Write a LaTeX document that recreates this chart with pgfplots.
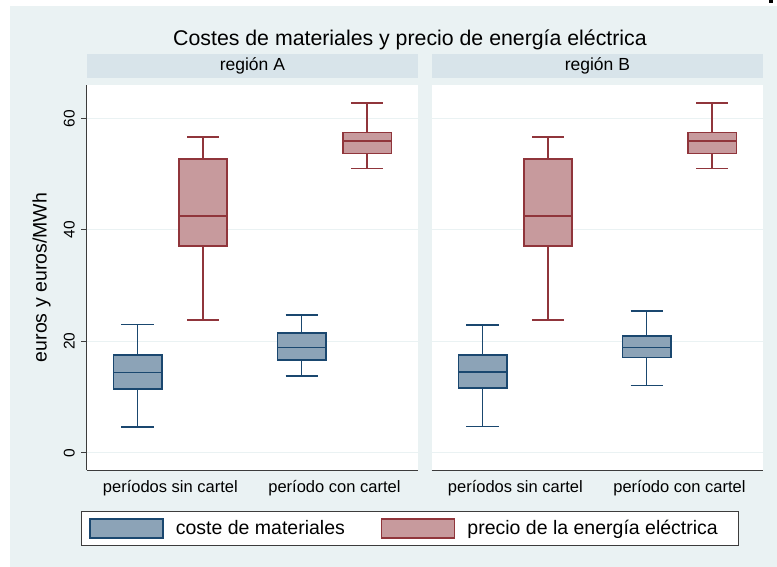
\documentclass[border=0pt]{standalone}
\usepackage{fontspec}
\setmainfont{Liberation Sans}
\usepackage{pgfplots}
\pgfplotsset{compat=1.18}
\definecolor{bgc}{RGB}{234,242,243}
\definecolor{stripc}{RGB}{216,228,234}
\definecolor{gridc}{RGB}{234,242,243}
\definecolor{navyc}{RGB}{26,71,111}
\definecolor{navyf}{RGB}{140,163,183}
\definecolor{maroonc}{RGB}{144,53,59}
\definecolor{maroonf}{RGB}{199,154,157}
\definecolor{axc}{RGB}{60,60,60}

\pgfplotsset{
  panel/.style={
    anchor=south west, scale only axis,
    width=331.4pt, height=385pt,
    xmin=0.49, xmax=2.51, ymin=-3.1, ymax=66,
    axis x line*=bottom,
    axis line style={-, draw=axc, line width=0.9pt},
    xtick={1,2},
    xticklabels={períodos sin cartel, período con cartel},
    xtick style={draw=none},
    xticklabel style={font=\fontsize{16.5}{19}\selectfont, yshift=-1.5pt},
    ytick={0,20,40,60},
    ymajorgrids,
    grid style={draw=gridc, line width=1.2pt},
    tick align=outside,
    major tick length=5.5pt,
    /pgf/number format/assume math mode=true,
    title style={at={(0.5,1)}, anchor=south, yshift=0.8pt, fill=stripc,
      minimum width=331.4pt, minimum height=24.3pt, inner sep=0pt,
      font=\fontsize{17.5}{20}\selectfont},
  },
  blue/.style={draw=navyc, fill=navyf, line width=1.7pt, line join=miter},
  blueline/.style={draw=navyc, line width=1.6pt},
  red/.style={draw=maroonc, fill=maroonf, line width=1.7pt, line join=miter},
  redline/.style={draw=maroonc, line width=1.6pt},
}

% \boxp{style}{position}{lower whisker}{lower quartile}{median}{upper quartile}{upper whisker}
\newcommand{\boxp}[7]{%
  \pgfmathsetmacro{\bxl}{#2-0.147}\pgfmathsetmacro{\bxr}{#2+0.147}%
  \pgfmathsetmacro{\capl}{#2-0.098}\pgfmathsetmacro{\capr}{#2+0.098}%
  \edef\bxtemp{%
   \noexpand\addplot[#1line, forget plot, unbounded coords=jump] coordinates {(\capl,#7) (\capr,#7) (#2,nan) (#2,#7) (#2,#6) (#2,nan) (#2,#4) (#2,#3) (#2,nan) (\capl,#3) (\capr,#3)};
   \noexpand\addplot[#1, forget plot] coordinates {(\bxl,#4) (\bxr,#4) (\bxr,#6) (\bxl,#6)} -- cycle;
   \noexpand\addplot[#1line, forget plot] coordinates {(\bxl,#5) (\bxr,#5)};
  }%
  \bxtemp}

\begin{document}
\begin{tikzpicture}
\useasboundingbox (0,0) rectangle (777pt,567pt);
\fill[bgc] (10pt,0pt) rectangle (777pt,561.3pt);
\fill[black] (769.3pt,564.3pt) rectangle (772.7pt,567pt);
\fill[white] (86.7pt,97pt) rectangle ++(331.4pt,385pt);
\fill[white] (431.7pt,97pt) rectangle ++(331.4pt,385pt);
\node[font=\fontsize{21.3}{25}\selectfont] at (410pt,527pt) {Costes de materiales y precio de energía eléctrica};

% ---------- region A ----------
\begin{axis}[panel,
  at={(86.7pt,97pt)},
  axis y line*=left,
  ytick style={draw=axc, line width=0.9pt},
  yticklabel style={xshift=-3pt, rotate=90, anchor=south, font=\fontsize{15.5}{18}\selectfont},
  title={región A},
  ylabel={euros y euros/MWh},
  ylabel style={at={(axis description cs:-0.136,0.5)}, anchor=center, font=\fontsize{19.5}{22}\selectfont},
  legend columns=2,
  legend style={at={(axis description cs:0.9753,-0.1514)}, anchor=center,
    draw=axc, fill=white, line width=0.9pt,
    inner xsep=8pt, inner ysep=7pt,
    font=\fontsize{19.5}{22}\selectfont,
    /tikz/every odd column/.append style={column sep=10pt},
    /tikz/every even column/.append style={column sep=34pt}},
]
\boxp{blue}{0.8}{4.6}{11.4}{14.4}{17.6}{23.0}
\boxp{red}{1.2}{23.8}{37.1}{42.5}{52.7}{56.7}
\boxp{blue}{1.8}{13.8}{16.7}{18.9}{21.5}{24.7}
\boxp{red}{2.2}{51.0}{53.7}{56.0}{57.5}{62.8}
\addlegendimage{legend image code/.code={\draw[draw=navyc, fill=navyf, line width=1.5pt] (0pt,-9.5pt) rectangle (73pt,9.5pt);}}
\addlegendentry{coste de materiales}
\addlegendimage{legend image code/.code={\draw[draw=maroonc, fill=maroonf, line width=1.5pt] (0pt,-9.5pt) rectangle (73pt,9.5pt);}}
\addlegendentry{\makebox[261pt][l]{precio de la energía eléctrica}}
\end{axis}

% ---------- region B ----------
\begin{axis}[panel,
  at={(431.7pt,97pt)},
  axis y line*=left,
  y axis line style={draw=none},
  ytick style={draw=none},
  yticklabels={},
  title={región B},
]
\boxp{blue}{0.8}{4.7}{11.6}{14.5}{17.55}{22.9}
\boxp{red}{1.2}{23.8}{37.1}{42.5}{52.7}{56.7}
\boxp{blue}{1.8}{12.1}{17.1}{18.9}{20.9}{25.4}
\boxp{red}{2.2}{51.0}{53.7}{56.0}{57.5}{62.8}
\end{axis}
\end{tikzpicture}
\end{document}
